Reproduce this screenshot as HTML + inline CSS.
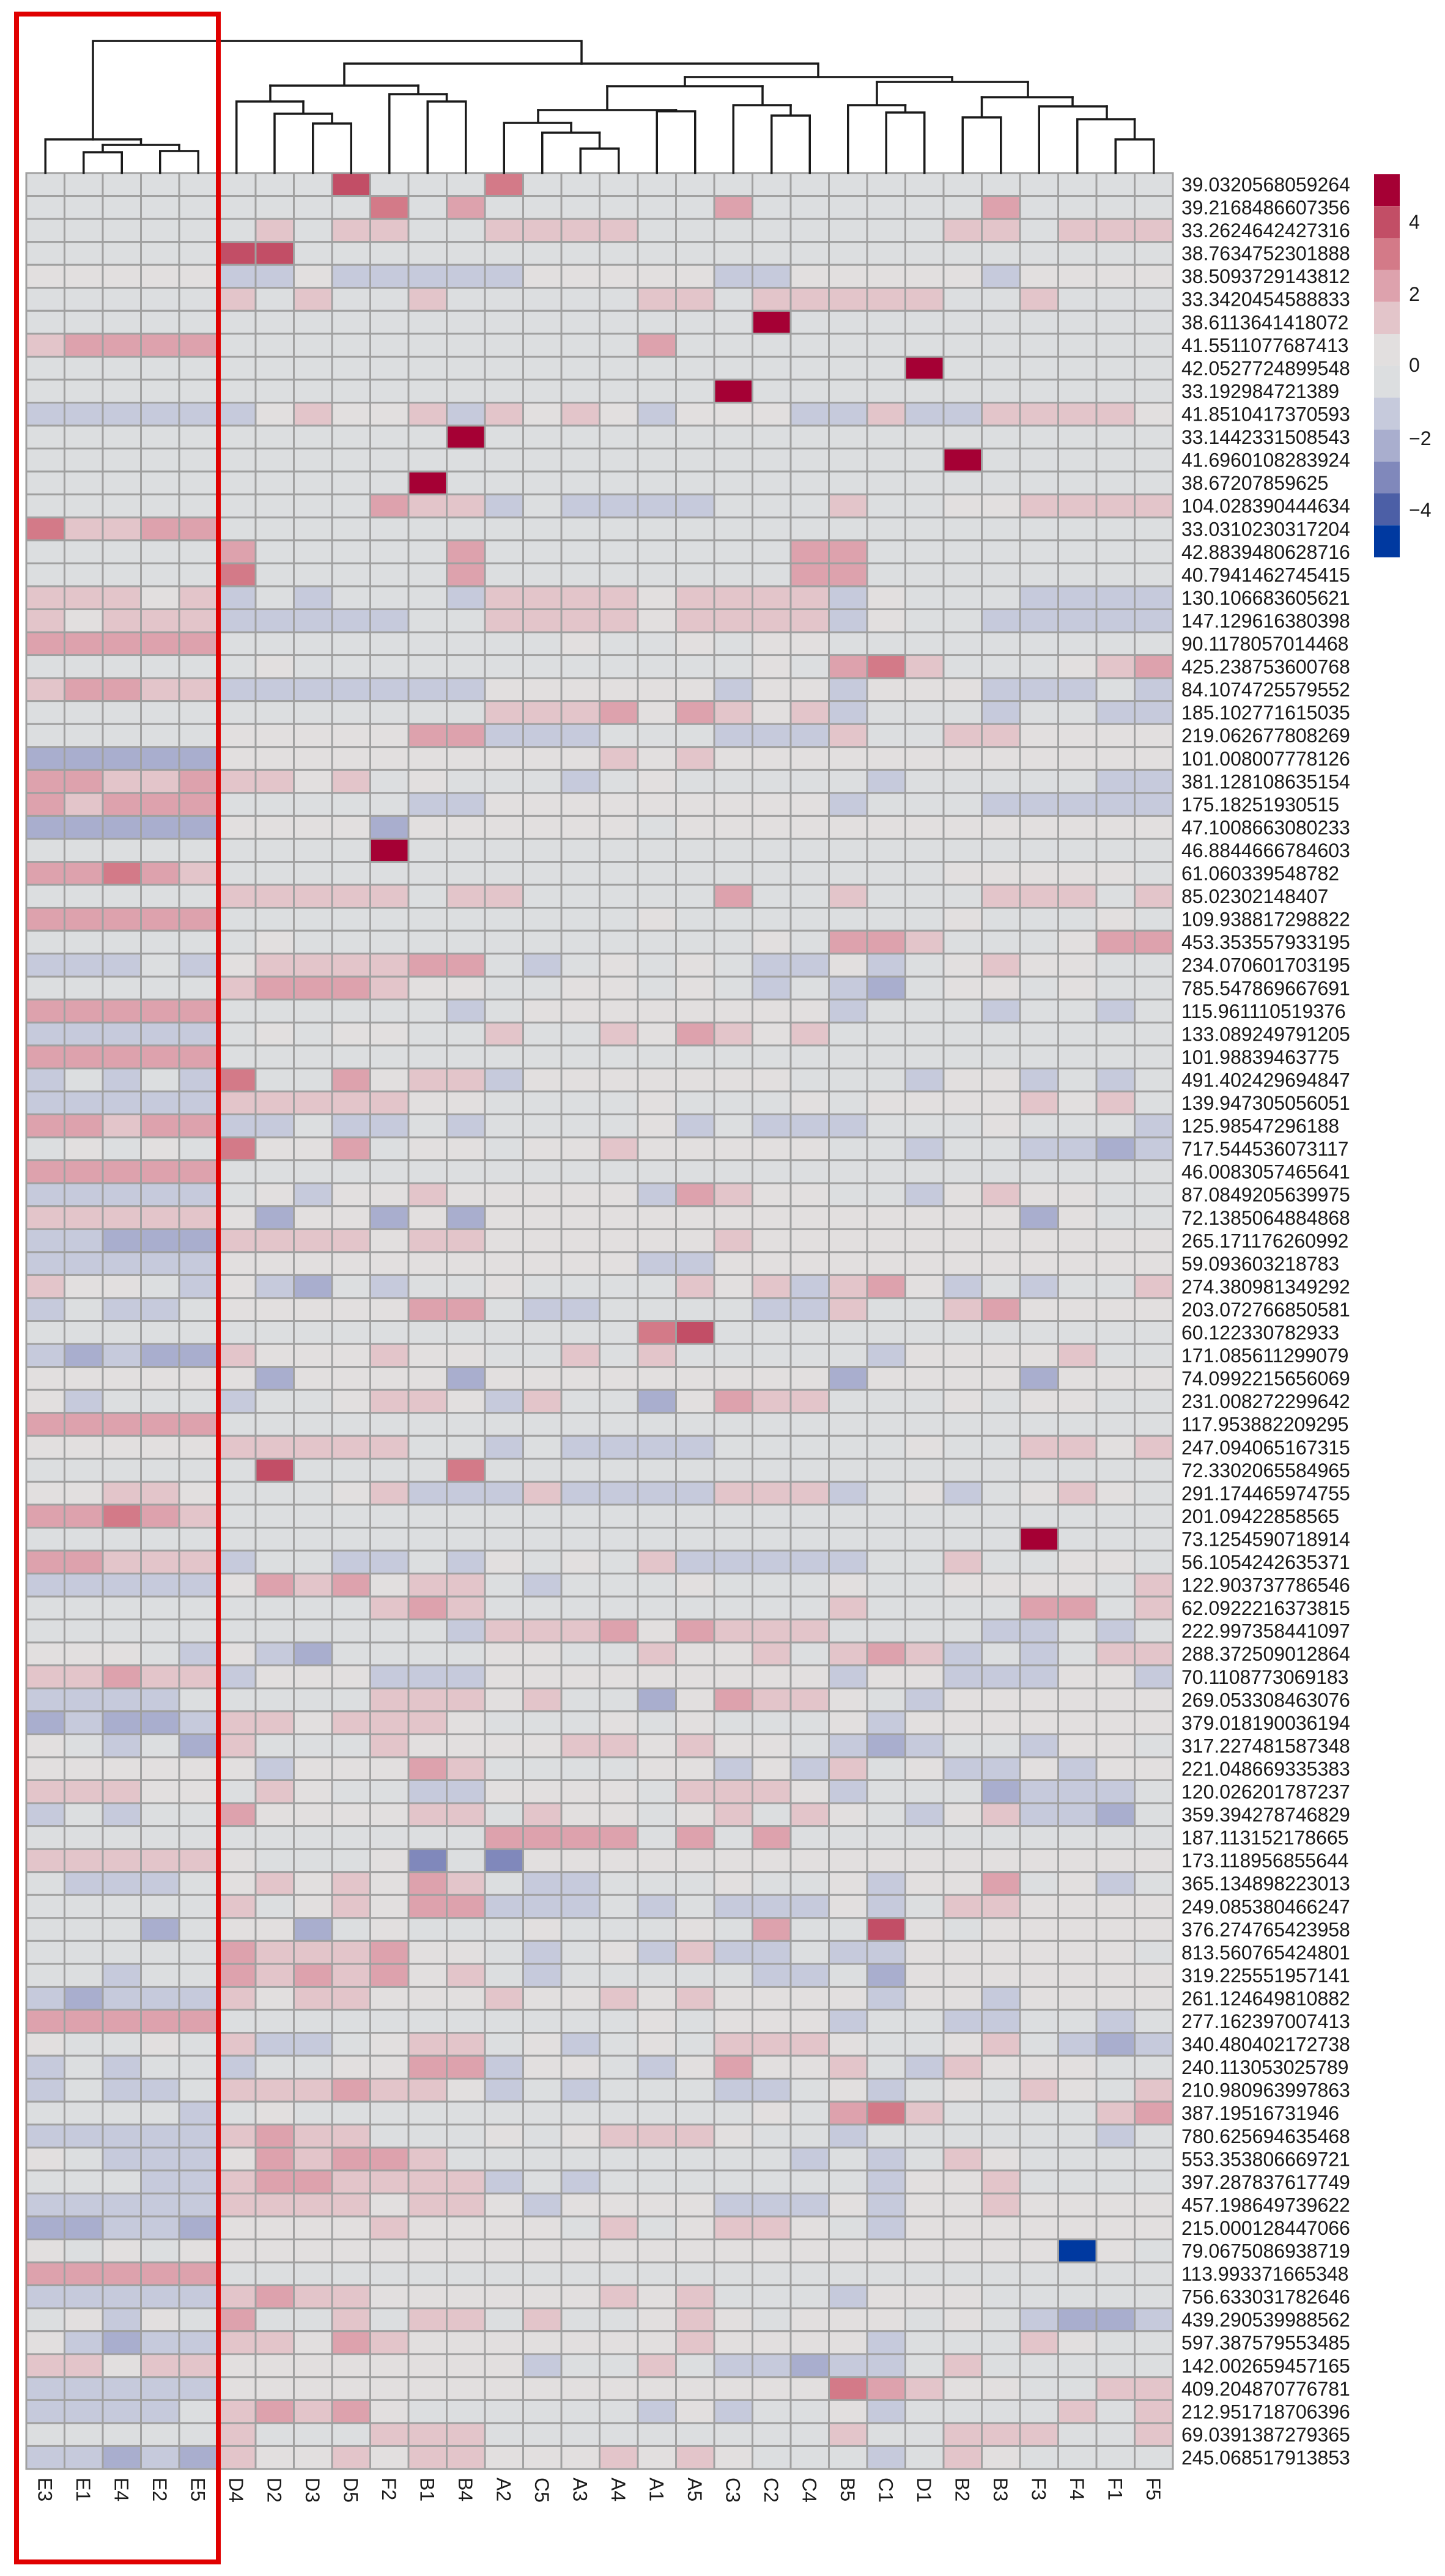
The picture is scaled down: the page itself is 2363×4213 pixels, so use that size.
<!DOCTYPE html>
<html><head><meta charset="utf-8"><style>
html,body{margin:0;padding:0;background:#fff;}
svg{display:block;}
text{font-family:"Liberation Sans",Arial,sans-serif;font-size:32px;fill:#1a1a1a;}
</style></head><body>
<svg id="s" width="2363" height="4213" viewBox="0 0 2363 4213" xmlns="http://www.w3.org/2000/svg">
<rect width="2363" height="4213" fill="#fff"/>
<g id="cells"></g>
<g stroke="#1a1a1a" stroke-width="3.5" fill="none" stroke-linecap="square">
<path d="M136.75 283V249H199.25V283M168 249V237"/>
<path d="M261.75 283V247H324.25V283M293 247V237"/>
<path d="M168 237H293M230.5 237V228"/>
<path d="M74.25 283V228H230.5"/>
<path d="M152 228V67H951V104"/>
<path d="M511.75 283V202H574.25V283M543 202V186"/>
<path d="M449 283V186H543M496 186V166"/>
<path d="M386.75 283V166H496M442 166V140"/>
<path d="M699.25 283V166H761.75V283M730.5 166V154"/>
<path d="M636.75 283V154H730.5M684 154V140"/>
<path d="M442 140H684M563 140V104H1338V126"/>
<path d="M949.25 283V243H1011.75V283M980.5 243V217"/>
<path d="M886.75 283V217H980.5M934 217V201"/>
<path d="M824.25 283V201H934M880 201V180"/>
<path d="M1074.25 283V182H1136.75V283M1105.5 182V180"/>
<path d="M880 180H1105.5M993 180V141"/>
<path d="M1261.75 283V189H1324.25V283M1293 189V172"/>
<path d="M1199.25 283V172H1293M1247 172V141"/>
<path d="M993 141H1247M1120 141V126"/>
<path d="M1449.25 283V184H1511.75V283M1480.5 184V172"/>
<path d="M1386.75 283V172H1480.5M1434 172V134"/>
<path d="M1574.25 283V192H1636.75V283M1605.5 192V159"/>
<path d="M1824.25 283V228H1886.75V283M1855.5 228V195"/>
<path d="M1761.75 283V195H1855.5M1810 195V174"/>
<path d="M1699.25 283V174H1810M1754 174V159"/>
<path d="M1605.5 159H1754M1681 159V134"/>
<path d="M1434 134H1681M1557 134V126"/>
<path d="M1120 126H1557"/>
</g>
<g>
<rect x="2247" y="285" width="42" height="52.2" fill="#a50034"/>
<rect x="2247" y="337.2" width="42" height="52.2" fill="#c24e66"/>
<rect x="2247" y="389.4" width="42" height="52.2" fill="#d37a88"/>
<rect x="2247" y="441.6" width="42" height="52.2" fill="#dda2ad"/>
<rect x="2247" y="493.8" width="42" height="52.2" fill="#e3c5ca"/>
<rect x="2247" y="546" width="42" height="52.2" fill="#e2dfdf"/>
<rect x="2247" y="598.2" width="42" height="52.2" fill="#dcdee0"/>
<rect x="2247" y="650.4" width="42" height="52.2" fill="#c6cadc"/>
<rect x="2247" y="702.6" width="42" height="52.2" fill="#a9aece"/>
<rect x="2247" y="754.8" width="42" height="52.2" fill="#8088bb"/>
<rect x="2247" y="807" width="42" height="52.2" fill="#4c5fa6"/>
<rect x="2247" y="859.2" width="42" height="52.2" fill="#0039a0"/>
<text x="2304" y="374">4</text>
<text x="2304" y="492">2</text>
<text x="2304" y="608">0</text>
<text x="2304" y="728">−2</text>
<text x="2304" y="845">−4</text>
</g>
<g id="rl">
<text x="1932" y="313">39.0320568059264</text>
<text x="1932" y="350.5">39.2168486607356</text>
<text x="1932" y="388.1">33.2624642427316</text>
<text x="1932" y="425.6">38.7634752301888</text>
<text x="1932" y="463.2">38.5093729143812</text>
<text x="1932" y="500.7">33.3420454588833</text>
<text x="1932" y="538.3">38.6113641418072</text>
<text x="1932" y="575.9">41.5511077687413</text>
<text x="1932" y="613.4">42.0527724899548</text>
<text x="1932" y="651">33.192984721389</text>
<text x="1932" y="688.5">41.8510417370593</text>
<text x="1932" y="726.1">33.1442331508543</text>
<text x="1932" y="763.6">41.6960108283924</text>
<text x="1932" y="801.2">38.67207859625</text>
<text x="1932" y="838.7">104.028390444634</text>
<text x="1932" y="876.3">33.0310230317204</text>
<text x="1932" y="913.8">42.8839480628716</text>
<text x="1932" y="951.4">40.7941462745415</text>
<text x="1932" y="988.9">130.106683605621</text>
<text x="1932" y="1026.5">147.129616380398</text>
<text x="1932" y="1064">90.1178057014468</text>
<text x="1932" y="1101.6">425.238753600768</text>
<text x="1932" y="1139.1">84.1074725579552</text>
<text x="1932" y="1176.7">185.102771615035</text>
<text x="1932" y="1214.2">219.062677808269</text>
<text x="1932" y="1251.8">101.008007778126</text>
<text x="1932" y="1289.3">381.128108635154</text>
<text x="1932" y="1326.9">175.18251930515</text>
<text x="1932" y="1364.4">47.1008663080233</text>
<text x="1932" y="1402">46.8844666784603</text>
<text x="1932" y="1439.5">61.060339548782</text>
<text x="1932" y="1477.1">85.02302148407</text>
<text x="1932" y="1514.6">109.938817298822</text>
<text x="1932" y="1552.2">453.353557933195</text>
<text x="1932" y="1589.7">234.070601703195</text>
<text x="1932" y="1627.3">785.547869667691</text>
<text x="1932" y="1664.8">115.961110519376</text>
<text x="1932" y="1702.4">133.089249791205</text>
<text x="1932" y="1739.9">101.98839463775</text>
<text x="1932" y="1777.5">491.402429694847</text>
<text x="1932" y="1815">139.947305056051</text>
<text x="1932" y="1852.6">125.98547296188</text>
<text x="1932" y="1890.1">717.544536073117</text>
<text x="1932" y="1927.7">46.0083057465641</text>
<text x="1932" y="1965.2">87.0849205639975</text>
<text x="1932" y="2002.8">72.1385064884868</text>
<text x="1932" y="2040.3">265.171176260992</text>
<text x="1932" y="2077.9">59.093603218783</text>
<text x="1932" y="2115.4">274.380981349292</text>
<text x="1932" y="2153">203.072766850581</text>
<text x="1932" y="2190.5">60.122330782933</text>
<text x="1932" y="2228.1">171.085611299079</text>
<text x="1932" y="2265.6">74.0992215656069</text>
<text x="1932" y="2303.2">231.008272299642</text>
<text x="1932" y="2340.7">117.953882209295</text>
<text x="1932" y="2378.3">247.094065167315</text>
<text x="1932" y="2415.8">72.3302065584965</text>
<text x="1932" y="2453.4">291.174465974755</text>
<text x="1932" y="2490.9">201.09422858565</text>
<text x="1932" y="2528.5">73.1254590718914</text>
<text x="1932" y="2566">56.1054242635371</text>
<text x="1932" y="2603.6">122.903737786546</text>
<text x="1932" y="2641.1">62.0922216373815</text>
<text x="1932" y="2678.7">222.997358441097</text>
<text x="1932" y="2716.2">288.372509012864</text>
<text x="1932" y="2753.8">70.1108773069183</text>
<text x="1932" y="2791.3">269.053308463076</text>
<text x="1932" y="2828.9">379.018190036194</text>
<text x="1932" y="2866.4">317.227481587348</text>
<text x="1932" y="2904">221.048669335383</text>
<text x="1932" y="2941.5">120.026201787237</text>
<text x="1932" y="2979.1">359.394278746829</text>
<text x="1932" y="3016.6">187.113152178665</text>
<text x="1932" y="3054.2">173.118956855644</text>
<text x="1932" y="3091.7">365.134898223013</text>
<text x="1932" y="3129.3">249.085380466247</text>
<text x="1932" y="3166.8">376.274765423958</text>
<text x="1932" y="3204.4">813.560765424801</text>
<text x="1932" y="3241.9">319.225551957141</text>
<text x="1932" y="3279.5">261.124649810882</text>
<text x="1932" y="3317">277.162397007413</text>
<text x="1932" y="3354.6">340.480402172738</text>
<text x="1932" y="3392.1">240.113053025789</text>
<text x="1932" y="3429.7">210.980963997863</text>
<text x="1932" y="3467.2">387.19516731946</text>
<text x="1932" y="3504.8">780.625694635468</text>
<text x="1932" y="3542.3">553.353806669721</text>
<text x="1932" y="3579.9">397.287837617749</text>
<text x="1932" y="3617.4">457.198649739622</text>
<text x="1932" y="3655">215.000128447066</text>
<text x="1932" y="3692.5">79.0675086938719</text>
<text x="1932" y="3730.1">113.993371665348</text>
<text x="1932" y="3767.6">756.633031782646</text>
<text x="1932" y="3805.2">439.290539988562</text>
<text x="1932" y="3842.7">597.387579553485</text>
<text x="1932" y="3880.3">142.002659457165</text>
<text x="1932" y="3917.8">409.204870776781</text>
<text x="1932" y="3955.4">212.951718706396</text>
<text x="1932" y="3992.9">69.0391387279365</text>
<text x="1932" y="4030.5">245.068517913853</text>
</g>
<g>
<text transform="translate(74.25,4052) rotate(90)" dy="0.36em">E3</text>
<text transform="translate(136.75,4052) rotate(90)" dy="0.36em">E1</text>
<text transform="translate(199.25,4052) rotate(90)" dy="0.36em">E4</text>
<text transform="translate(261.75,4052) rotate(90)" dy="0.36em">E2</text>
<text transform="translate(324.25,4052) rotate(90)" dy="0.36em">E5</text>
<text transform="translate(386.75,4052) rotate(90)" dy="0.36em">D4</text>
<text transform="translate(449.25,4052) rotate(90)" dy="0.36em">D2</text>
<text transform="translate(511.75,4052) rotate(90)" dy="0.36em">D3</text>
<text transform="translate(574.25,4052) rotate(90)" dy="0.36em">D5</text>
<text transform="translate(636.75,4052) rotate(90)" dy="0.36em">F2</text>
<text transform="translate(699.25,4052) rotate(90)" dy="0.36em">B1</text>
<text transform="translate(761.75,4052) rotate(90)" dy="0.36em">B4</text>
<text transform="translate(824.25,4052) rotate(90)" dy="0.36em">A2</text>
<text transform="translate(886.75,4052) rotate(90)" dy="0.36em">C5</text>
<text transform="translate(949.25,4052) rotate(90)" dy="0.36em">A3</text>
<text transform="translate(1011.75,4052) rotate(90)" dy="0.36em">A4</text>
<text transform="translate(1074.25,4052) rotate(90)" dy="0.36em">A1</text>
<text transform="translate(1136.75,4052) rotate(90)" dy="0.36em">A5</text>
<text transform="translate(1199.25,4052) rotate(90)" dy="0.36em">C3</text>
<text transform="translate(1261.75,4052) rotate(90)" dy="0.36em">C2</text>
<text transform="translate(1324.25,4052) rotate(90)" dy="0.36em">C4</text>
<text transform="translate(1386.75,4052) rotate(90)" dy="0.36em">B5</text>
<text transform="translate(1449.25,4052) rotate(90)" dy="0.36em">C1</text>
<text transform="translate(1511.75,4052) rotate(90)" dy="0.36em">D1</text>
<text transform="translate(1574.25,4052) rotate(90)" dy="0.36em">B2</text>
<text transform="translate(1636.75,4052) rotate(90)" dy="0.36em">B3</text>
<text transform="translate(1699.25,4052) rotate(90)" dy="0.36em">F3</text>
<text transform="translate(1761.75,4052) rotate(90)" dy="0.36em">F4</text>
<text transform="translate(1824.25,4052) rotate(90)" dy="0.36em">F1</text>
<text transform="translate(1886.75,4052) rotate(90)" dy="0.36em">F5</text>
</g>
<rect x="27" y="23" width="330" height="4167" fill="none" stroke="#e00000" stroke-width="8"/>
</svg>
<script>
var R=[
"........4...3.................",
".........3.2......2......2....",
"......1.11..1111........11.111",
".....44.......................",
"wwwwwbbwbbbbbwwwwwbbwwwwwbwwww",
".....1.1..1.....11.11111..1...",
"...................5..........",
"12222...........2.............",
".......................5......",
"..................5...........",
"bbbbbbw1ww1b1w1wbwwwbb1bb1111w",
"...........5..................",
"........................5.....",
"..........5...................",
".........211b.bbbb...1..ww1111",
"31122.........................",
".....2.....2........22........",
".....3.....2........22........",
"111w1b.b...b1111w1111bw...bbbb",
"1w111bbbbb..1111w1111bw..bbbbb",
"22222.........w..w.ww.........",
"......w............w.231...w12",
"12211bbbbbbbwwwwwwbwwbwwwbbb.b",
"............1112w21w1b...b..bb",
".....wwwww22bbb...bbb1..11wwww",
"cccccwwwwwwwwww1w1wwwwwwwwwwww",
"2211211w1.w...b.w.....b.....bb",
"21222.....bbwwwwwwwwwb...bbbbb",
"cccccwwwwcwwwwww.wwwwwwwwwwwww",
".........5....................",
"22321...................wwwww.",
".....11111.11.....2..1...111.1",
"22222...........w.......w...w.",
"......w............w.221...w22",
"bbb.bw111122.b.w.w.bbwb.w1ww..",
".....12221ww..ww.w.b.bc.ww.w..",
"22222......b.wwwwwwwwb...b..b.",
"bbbbb.w.ww..1..1w21w1.........",
"22222.........................",
"b.b.b3..2w11bwwwwwww...bwwb.b.",
"bbbbb11111ww....w...w.wwww1w1.",
"22122bb.bb.b....wb.bbb...w...b",
".w.w.3ww2.ww.ww1wwwww..b..bbcb",
"22222.........................",
"bbbbb.wbww1wwwwwb21ww..bw1ww..",
"11111wcwwcwcwwwwwwwwwwwwwwcw..",
"bbccc1111w11wwwwww1wwwwwwwwwww",
"bbbbbwwwwwwwwwwwbbwwwwwwwwwwww",
"1ww.bwbc.b..w....1w1b12wb.b..1",
"b.bb.wwwww22.bb....bb1..12wwww",
"................34............",
"bcbcc1www1ww..1.1.....bwwww1..",
"wwwwwwcwwwwcwwwwwwwwwcwwwwcwww",
"wb...b..w11wb1..cw211...w.ww..",
"22222.........................",
"wwwww11111..b.bbbb.....w..11w1",
"......4....3..................",
"ww11w...w1bbb1bbbb111b.wb.w1w.",
"22321.........................",
"..........................5...",
"22111b..bb.bw.w.1bbbbb..1..ww.",
"bbbbbw212w11.b...w...w..wwww.1",
".........121.........1....22.1",
"...........b1112w2111....bb.b.",
"www.bwbc....ww..1ww1.121b.b.11",
"11211bwwwbbbwwwwwwwwwbwwbbbwwb",
"bbbb.....111w1..cw211w.bwwwwww",
"cbccb11w111w...w.w...wbwwwwwww",
"w.b.c1...1wwww11w1ww.bcb..bww.",
"wwwwwwbwww21....wwbwb1.wbbwbww",
"111ww.1w..bbwwww.111wb...cbbb.",
"b.b..2wwww11.1ww.w1.1w.bw1bbc.",
"............2222.2.2..........",
"11111w...wd.dwwwwwwwwwwwwwwwww",
".bbb.w1w1w21.bb...w..wbww2.wb.",
".....1.w1w22bbb.b.bbbwb.11wwww",
"...c.wwc.w...w...w.2..4w.wwwww",
".....21112ww.b.wb1bb.bbwwwwww.",
"..b..21212w1.b.....bb.cwwwwwww",
"bcbbb1w11www1ww1w1wwwwbwwbwwww",
"22222...........w.wwwb..bb..b.",
"w..w.1bb.w11.wb.w.111w..w1.bcb",
"b.b..b..ww22bww.bw2ww1.b1www..",
"b.bb.111211wb.b...bb.wb.w.1w.1",
"....b.w............w.231....12",
"bbbbb1211...w.w111w..b......b.",
"w.bbbw21221.........b.b.1w....",
"...bb1221111b.b.......bww1....",
"bbbbb1111w11wbwwwwbbbwbww1wwww",
"ccbbcwwww1wwww.1.w11w.bwwwwwww",
"w.w.wwwwwwwwwwwwwwwwwwwwwwwfw.",
"22222.........................",
"bbbbb1211wwwwww1w1...bwww.....",
".wbw.2..1.11.1..w1w.www.w.bccb",
"wbcbb11w21wwwwwww1wwwwb...1w..",
"11w11wwwwwwwwb..1.bbcbb.1.....",
"bbbbbwwwwwwwwwwwwwwww321ww..11",
"bbbb.1212w......bwb..wb....1.1",
".....1...111.........1..111..1",
"bbcbc1ww1w11www1w1w...b.1w...."
];
var C={"5":"#a50034","4":"#c24e66","3":"#d37a88","2":"#dda2ad","1":"#e3c5ca","w":"#e2dfdf",".":"#dcdee0","b":"#c6cadc","c":"#a9aece","d":"#8088bb","e":"#4c5fa6","f":"#0039a0"};
var g=document.getElementById("cells"),ns="http://www.w3.org/2000/svg";
var X0=43,Y0=283,W=62.5,H=37.55;
for(var r=0;r<100;r++){var s=R[r]||"";for(var c=0;c<30;c++){var ch=s.charAt(c)||".";var e=document.createElementNS(ns,"rect");e.setAttribute("x",X0+W*c);e.setAttribute("y",Y0+H*r);e.setAttribute("width",W);e.setAttribute("height",H);e.setAttribute("fill",C[ch]||"#dcdee0");e.setAttribute("stroke","#a0a0a0");e.setAttribute("stroke-width","3");g.appendChild(e);}}
</script>
</body></html>
